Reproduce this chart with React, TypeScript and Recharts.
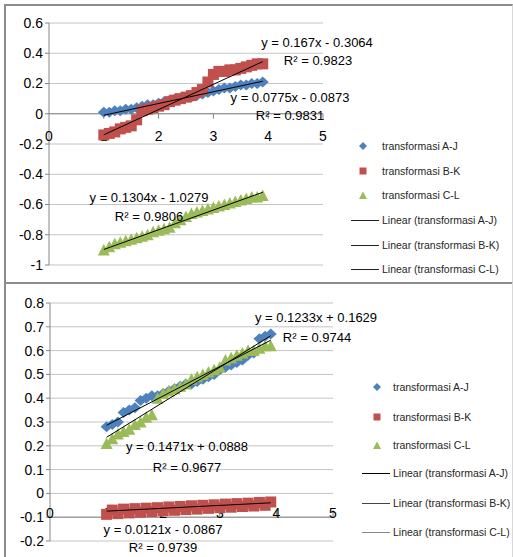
import React from 'react';
import { ScatterChart, Scatter, XAxis, YAxis, CartesianGrid, ReferenceLine, ReferenceDot } from 'recharts';

// ---- data ----
const xValues = [1.0, 1.1, 1.2, 1.3, 1.4, 1.5, 1.6, 1.7, 1.8, 1.9, 2.0, 2.1, 2.2, 2.3, 2.4, 2.5, 2.6, 2.7, 2.8, 2.9, 3.0, 3.1, 3.2, 3.3, 3.4, 3.5, 3.6, 3.7, 3.8, 3.9];

const topAJ = [0.01, 0.01, 0.02, 0.02, 0.03, 0.03, 0.04, 0.05, 0.06, 0.06, 0.07, 0.08, 0.09, 0.1, 0.1, 0.11, 0.11, 0.12, 0.13, 0.14, 0.15, 0.16, 0.17, 0.17, 0.18, 0.19, 0.19, 0.2, 0.2, 0.21];
const topBK = [-0.14, -0.13, -0.12, -0.1, -0.09, -0.08, -0.04, 0.02, 0.03, 0.04, 0.05, 0.06, 0.08, 0.09, 0.1, 0.11, 0.12, 0.14, 0.16, 0.21, 0.26, 0.28, 0.28, 0.29, 0.29, 0.3, 0.31, 0.32, 0.33, 0.33];
const topCL = [-0.9, -0.88, -0.86, -0.85, -0.84, -0.83, -0.82, -0.81, -0.8, -0.78, -0.77, -0.76, -0.75, -0.72, -0.7, -0.68, -0.66, -0.65, -0.64, -0.63, -0.62, -0.61, -0.6, -0.59, -0.58, -0.57, -0.56, -0.55, -0.55, -0.54];

const botAJ = [0.28, 0.29, 0.3, 0.34, 0.35, 0.36, 0.39, 0.4, 0.41, 0.41, 0.42, 0.43, 0.44, 0.45, 0.46, 0.46, 0.47, 0.48, 0.49, 0.5, 0.52, 0.53, 0.54, 0.55, 0.56, 0.58, 0.59, 0.65, 0.66, 0.67];
const botBK = [-0.088, -0.07, -0.085, -0.066, -0.082, -0.064, -0.079, -0.062, -0.076, -0.06, -0.073, -0.057, -0.071, -0.055, -0.068, -0.052, -0.066, -0.05, -0.063, -0.048, -0.06, -0.045, -0.058, -0.043, -0.055, -0.041, -0.053, -0.038, -0.05, -0.036];
const botCL = [0.21, 0.23, 0.25, 0.26, 0.27, 0.29, 0.3, 0.32, 0.33, 0.4, 0.42, 0.43, 0.44, 0.45, 0.46, 0.48, 0.49, 0.5, 0.51, 0.52, 0.53, 0.56, 0.57, 0.58, 0.59, 0.6, 0.6, 0.61, 0.62, 0.62];

const topSlopes = [0.0775, 0.167, 0.1304];
const topIntercepts = [-0.0873, -0.3064, -1.0279];
const topR2 = ['0.9831', '0.9823', '0.9806'];
const botSlopes = [0.1233, 0.0121, 0.1471];
const botIntercepts = [0.1629, -0.0867, 0.0888];
const botR2 = ['0.9744', '0.9739', '0.9677'];

const seriesNames = ['transformasi A-J', 'transformasi B-K', 'transformasi C-L'];
const trendNames = seriesNames.map((n) => `Linear (${n})`);

const xTicks = [0, 1, 2, 3, 4, 5];
const topYTicks = [-1, -0.8, -0.6, -0.4, -0.2, 0, 0.2, 0.4, 0.6];
const botYTicks = [-0.2, -0.1, 0, 0.1, 0.2, 0.3, 0.4, 0.5, 0.6, 0.7, 0.8];

// ---- styles ----
const FONT = '"Liberation Sans", Arial, sans-serif';
const COLORS = ['#4F81BD', '#C0504D', '#9BBB59'];
const AXIS = '#868686';
const GRID = '#c4c4c4';

const pts = (ys: number[]) => xValues.map((x, i) => ({ x, y: ys[i] }));
const trend = (m: number, b: number) => {
  const x0 = xValues[0];
  const x1 = xValues[xValues.length - 1];
  return [
    { x: x0, y: m * x0 + b },
    { x: x1, y: m * x1 + b },
  ];
};
const eq = (m: number, b: number) => `y = ${m}x ${b < 0 ? '-' : '+'} ${Math.abs(b)}`;

const Diamond = (p: any) => {
  const { cx, cy } = p;
  if (cx == null || cy == null) return <g />;
  return <polygon points={`${cx - 6},${cy} ${cx},${cy - 5.5} ${cx + 6},${cy} ${cx},${cy + 5.5}`} fill={COLORS[0]} />;
};
const Square = (p: any) => {
  const { cx, cy } = p;
  if (cx == null || cy == null) return <g />;
  return <rect x={cx - 5.5} y={cy - 5.5} width={11} height={11} fill={COLORS[1]} />;
};
const Triangle = (p: any) => {
  const { cx, cy } = p;
  if (cx == null || cy == null) return <g />;
  return <polygon points={`${cx - 6},${cy + 5.5} ${cx + 6},${cy + 5.5} ${cx},${cy - 6}`} fill={COLORS[2]} />;
};
const NoDot = () => <g />;
const shapes = [Diamond, Square, Triangle];

const LegendIcon = ({ i }: { i: number }) => (
  <svg width={8} height={8} style={{ display: 'block' }}>
    {i === 0 && <polygon points="0,4 4,0 8,4 4,8" fill={COLORS[0]} />}
    {i === 1 && <rect x={0.5} y={0.5} width={7} height={7} fill={COLORS[1]} />}
    {i === 2 && <polygon points="0,8 8,8 4,0.5" fill={COLORS[2]} />}
  </svg>
);

type LegendCfg = { rows: number[]; markerX: number; lineX0: number; lineX1: number; textX: number; lineColors: string[] };

const legendText: React.CSSProperties = { position: 'absolute', fontSize: 10.5, lineHeight: '14px', color: '#262626', whiteSpace: 'nowrap' };

const LegendBlock = ({ cfg }: { cfg: LegendCfg }) => (
  <>
    {seriesNames.map((n, i) => (
      <React.Fragment key={n}>
        <div style={{ position: 'absolute', left: cfg.markerX - 4, top: cfg.rows[i] - 4 }}>
          <LegendIcon i={i} />
        </div>
        <div style={{ ...legendText, left: cfg.textX, top: cfg.rows[i] - 7 }}>{n}</div>
      </React.Fragment>
    ))}
    {trendNames.map((n, i) => (
      <React.Fragment key={n}>
        <div style={{ position: 'absolute', left: cfg.lineX0, top: cfg.rows[i + 3], width: cfg.lineX1 - cfg.lineX0, height: 1, background: cfg.lineColors[i] }} />
        <div style={{ ...legendText, left: cfg.textX, top: cfg.rows[i + 3] - 7 }}>{n}</div>
      </React.Fragment>
    ))}
  </>
);

const EqLabel = ({ x, y, text }: { x: number; y: number; text: string }) => (
  <div style={{ position: 'absolute', left: x, top: y, transform: 'translate(-50%, -50%)', fontSize: 13, lineHeight: '15px', color: '#000', whiteSpace: 'nowrap' }}>{text}</div>
);

const makeXTick = (dy: number, tickY0: number, tickY1: number) => (t: number) => (p: any) => {
  const { cx, cy } = p;
  if (cx == null || cy == null) return <g />;
  return (
    <g>
      {t !== 0 && <line x1={cx} y1={cy + tickY0} x2={cx} y2={cy + tickY1} stroke={AXIS} />}
      <text x={cx} y={cy + dy} textAnchor="middle" dominantBaseline="central" fontSize={14} fontFamily={FONT} fill="#000">{t}</text>
    </g>
  );
};

type PanelProps = {
  height: number;
  margin: { top: number; right: number; bottom: number; left: number };
  yTicks: number[];
  ys: number[][];
  slopes: number[];
  intercepts: number[];
  axisY: number;
  labelDy: number;
  tickY0: number;
  tickY1: number;
};

const Panel = ({ height, margin, yTicks, ys, slopes, intercepts, axisY, labelDy, tickY0, tickY1 }: PanelProps) => {
  const xt = makeXTick(labelDy, tickY0, tickY1);
  return (
    <ScatterChart width={513} height={height} margin={margin} style={{ fontFamily: FONT }}>
      <CartesianGrid vertical={false} stroke={GRID} />
      <XAxis type="number" dataKey="x" domain={[0, 5]} ticks={xTicks} hide allowDataOverflow />
      <YAxis
        type="number"
        dataKey="y"
        width={40}
        domain={[yTicks[0], yTicks[yTicks.length - 1]]}
        ticks={yTicks}
        interval={0}
        tickSize={4}
        tickFormatter={(v: number) => String(v)}
        tick={{ fill: '#000', fontSize: 14, fontFamily: FONT }}
        tickLine={{ stroke: AXIS }}
        axisLine={{ stroke: AXIS }}
        allowDataOverflow
      />
      <ReferenceLine y={axisY} stroke={AXIS} />
      {xTicks.map((t) => (
        <ReferenceDot key={`xt${t}`} x={t} y={axisY} r={0} ifOverflow="visible" shape={xt(t)} />
      ))}
      {ys.map((s, i) => (
        <Scatter key={`s${i}`} name={seriesNames[i]} data={pts(s)} shape={shapes[i]} isAnimationActive={false} />
      ))}
      {slopes.map((m, i) => (
        <Scatter key={`t${i}`} name={trendNames[i]} data={trend(m, intercepts[i])} line={{ stroke: '#000', strokeWidth: 1 }} shape={NoDot} isAnimationActive={false} />
      ))}
    </ScatterChart>
  );
};

export default function App() {
  return (
    <div style={{ position: 'absolute', left: 0, top: 0, width: 513, height: 557, overflow: 'hidden', background: '#fff', fontFamily: FONT }}>
      {/* frames */}
      <div style={{ position: 'absolute', left: 4, top: 4, width: 509, height: 280, boxSizing: 'border-box', borderTop: '2px solid #8c8c8c', borderLeft: '2px solid #8c8c8c', borderBottom: '2px solid #8c8c8c', borderRight: '1px solid #d8d8d8' }} />
      <div style={{ position: 'absolute', left: 4, top: 283, width: 509, height: 290, boxSizing: 'border-box', borderLeft: '2px solid #8c8c8c', borderRight: '1px solid #d8d8d8' }} />

      <div style={{ position: 'absolute', left: 0, top: 0 }}>
        <Panel
          height={280}
          margin={{ top: 23, right: 190, bottom: 15, left: 9 }}
          yTicks={topYTicks}
          ys={[topAJ, topBK, topCL]}
          slopes={topSlopes}
          intercepts={topIntercepts}
          axisY={0}
          labelDy={22}
          tickY0={0}
          tickY1={5}
        />
      </div>
      <div style={{ position: 'absolute', left: 0, top: 280 }}>
        <Panel
          height={277}
          margin={{ top: 23, right: 180, bottom: 16, left: 10 }}
          yTicks={botYTicks}
          ys={[botAJ, botBK, botCL]}
          slopes={botSlopes}
          intercepts={botIntercepts}
          axisY={-0.1}
          labelDy={-4}
          tickY0={-7}
          tickY1={0}
        />
      </div>

      {/* trendline equations, top panel */}
      <EqLabel x={290} y={97} text={eq(topSlopes[0], topIntercepts[0])} />
      <EqLabel x={290} y={115} text={`R² = ${topR2[0]}`} />
      <EqLabel x={317} y={42} text={eq(topSlopes[1], topIntercepts[1])} />
      <EqLabel x={318} y={60} text={`R² = ${topR2[1]}`} />
      <EqLabel x={149} y={197} text={eq(topSlopes[2], topIntercepts[2])} />
      <EqLabel x={149} y={216} text={`R² = ${topR2[2]}`} />

      {/* trendline equations, bottom panel */}
      <EqLabel x={316} y={317} text={eq(botSlopes[0], botIntercepts[0])} />
      <EqLabel x={317} y={337} text={`R² = ${botR2[0]}`} />
      <EqLabel x={163} y={529} text={eq(botSlopes[1], botIntercepts[1])} />
      <EqLabel x={163} y={547} text={`R² = ${botR2[1]}`} />
      <EqLabel x={187} y={446} text={eq(botSlopes[2], botIntercepts[2])} />
      <EqLabel x={187} y={467} text={`R² = ${botR2[2]}`} />

      <LegendBlock cfg={{ rows: [146, 171, 195, 220, 245, 269], markerX: 363, lineX0: 351, lineX1: 379, textX: 382, lineColors: ['#222', '#222', '#222'] }} />
      <LegendBlock cfg={{ rows: [387, 417, 445, 473, 503, 532], markerX: 377, lineX0: 362, lineX1: 390, textX: 393, lineColors: ['#000', '#444', '#888'] }} />
    </div>
  );
}
